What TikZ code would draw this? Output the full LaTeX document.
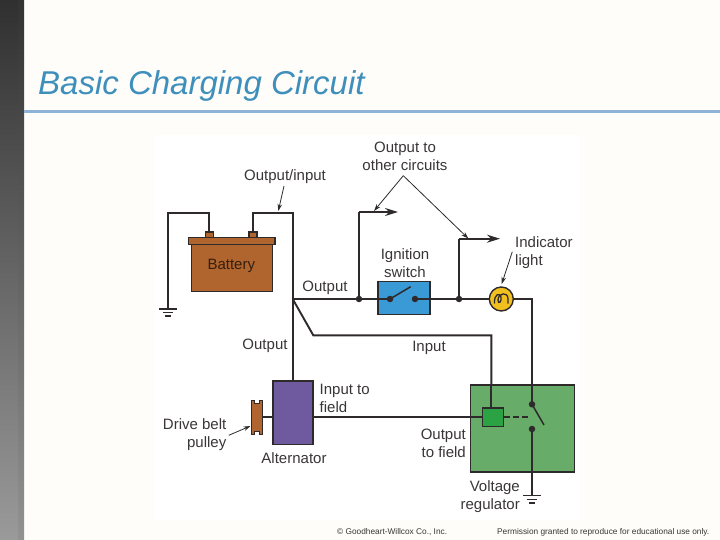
\documentclass[tikz,border=0pt]{standalone}
\usepackage{fontspec}
\setmainfont{Liberation Sans}
\usetikzlibrary{arrows.meta}
\definecolor{wirec}{HTML}{2E2A2B}
\definecolor{textc}{HTML}{3A3637}
\definecolor{titlec}{HTML}{3F8FBC}
\definecolor{rulec}{HTML}{8FB3D6}
\definecolor{paper}{HTML}{FEFDF9}
\definecolor{batc}{HTML}{B0652F}
\definecolor{swc}{HTML}{3A9AD6}
\definecolor{lampc}{HTML}{F2C01E}
\definecolor{altc}{HTML}{6F5AA0}
\definecolor{regc}{HTML}{67AC68}
\definecolor{relc}{HTML}{2BA243}
\definecolor{bartop}{HTML}{303030}
\definecolor{barbot}{HTML}{9A9A9A}
\definecolor{striptop}{HTML}{333333}
\definecolor{stripbot}{HTML}{929292}
\tikzset{
  wire/.style={draw=wirec,line width=1.9pt},
  outlined/.style={draw=wirec,line width=1.5pt},
  callout/.style={draw=wirec,line width=0.8pt,-{Stealth[length=7pt,width=4.5pt]}},
  outarrow/.style={wire,-{Stealth[length=13pt,width=8pt]}},
  lbl/.style={inner sep=0pt,text=textc,font=\fontsize{15}{18}\selectfont,align=center},
  lbll/.style={lbl,align=left},
  lblr/.style={lbl,align=right},
  foot/.style={inner sep=0pt,text=textc,font=\fontsize{8.3}{10}\selectfont},
  dotn/.style={circle,fill=wirec,inner sep=0pt,minimum size=6.5pt},
  gnd/.style={draw=wirec,line width=1.5pt}
}
\begin{document}
\begin{tikzpicture}[x=1pt,y=-1pt]
\useasboundingbox (0,0) rectangle (720,540);
\fill[paper] (0,0) rectangle (720,540);
\fill[white] (155,135) rectangle (580,520);
\shade[top color=bartop,bottom color=barbot] (0,0) rectangle (18,540);
\shade[top color=striptop,bottom color=stripbot] (18,0) rectangle (24,540);
\node[inner sep=0pt,anchor=base west,text=titlec,font=\fontsize{33}{36}\selectfont\itshape] (title) at (38,94.5) {Basic Charging Circuit};
\fill[rulec] (24,110.3) rectangle (720,113.3);

% coordinates
\coordinate (j1) at (292.7,299);
\coordinate (j2) at (359,299);
\coordinate (j3) at (459,299);
\coordinate (c1) at (390,299);
\coordinate (c2) at (415,299);

% wires under shapes
\draw[wire] (209,232) |- (167.7,213) -- (167.7,309);
\draw[wire] (252.7,232) |- (292.7,213) -- (292.7,381);
\draw[wire] (j1) -- (313.3,335.3) -| (491.3,408);

% battery
\node[outlined,fill=batc,minimum width=8pt,minimum height=5.7pt,inner sep=0pt] (t1) at (209.3,234.8) {};
\node[outlined,fill=batc,minimum width=8pt,minimum height=5.7pt,inner sep=0pt] (t2) at (253.2,234.8) {};
\node[outlined,fill=batc,minimum width=81pt,minimum height=47.4pt,inner sep=0pt] (bat) at (231.8,268) {};
\node[inner sep=0pt,text=black!70!batc,font=\fontsize{15}{18}\selectfont] (batl) at (231.3,266) {Battery};
\node[outlined,fill=batc,minimum width=86.7pt,minimum height=6.6pt,inner sep=0pt] (lid) at (231.7,241) {};

% ground 1
\draw[gnd] (159,309) -- (176.7,309) (162.7,312.5) -- (173.3,312.5) (165.3,316) -- (170.7,316);

% output arrows
\draw[wire] (j2) -- (359,212);
\draw[outarrow] (359,212) -- (398,212);
\draw[wire] (j3) -- (459,238.7);
\draw[outarrow] (459,238.7) -- (500,238.7);

% switch
\node[outlined,fill=swc,minimum width=52pt,minimum height=33pt,inner sep=0pt] (sw) at (404,297.8) {};
\draw[wire] (j1) -- (c1);
\draw[wire] (c2) -- (489,299);
\node[dotn] (d1) at (j2) {};
\node[dotn] (d2) at (j3) {};
\node[dotn] (d3) at (c1) {};
\node[dotn] (d4) at (c2) {};
\draw[wire,line width=1.5pt] (c1) -- (410.7,286.7);

% lamp
\draw[wire] (513,299) -| (532,404);
\node[circle,draw=wirec,line width=1.4pt,fill=lampc,minimum size=24pt,inner sep=0pt] (lamp) at (501.3,299) {};
\draw[wirec,line width=1.3pt] (494.5,303.5) .. controls (494,293) and (500,293) .. (501,297) .. controls (502,302) and (498,305) .. (498,300) .. controls (498,293) and (508,291) .. (508,299) -- (508,303.5);

% alternator
\node[outlined,fill=altc,minimum width=40pt,minimum height=63.7pt,inner sep=0pt] (alt) at (293,412.8) {};
% pulley
\draw[outlined,fill=batc] (251.5,400.5) -- (254.5,400.5) -- (254.5,403.5) -- (259.5,403.5) -- (259.5,400.5) -- (262.5,400.5) -- (262.5,434.5) -- (259.5,434.5) -- (259.5,431.5) -- (254.5,431.5) -- (254.5,434.5) -- (251.5,434.5) -- cycle;
\coordinate (pul) at (262.7,417.3);
\draw[wire] (pul) -- (273,417.3);

% regulator
\node[outlined,fill=regc,minimum width=103.6pt,minimum height=87pt,inner sep=0pt] (reg) at (522.5,428.5) {};
\draw[wire] (491.3,385) -- (491.3,408.3);
\draw[wire] (532,385) -- (532,404.3);
\draw[wire] (313,417.3) -- (482.3,417.3);
\node[outlined,fill=relc,minimum width=21pt,minimum height=18.4pt,inner sep=0pt] (rel) at (492.8,417.3) {};
\coordinate (dashend) at (530,417.3);
\draw[draw=wirec,line width=1.9pt,dash pattern=on 6pt off 3pt] (rel.east) -- (dashend);
\node[dotn] (u1) at (532,404.3) {};
\node[dotn] (u2) at (532,429) {};
\draw[wire,line width=1.5pt] (u1.center) -- (544,425);
\draw[wire] (u2.center) -- (532,495.7);
\draw[gnd] (523.3,495.7) -- (540.7,495.7) (526.7,499.3) -- (537.3,499.3) (529.3,502.9) -- (534.7,502.9);

% labels
\node[lbl] (l1) at (285,177) {Output/input};
\node[lbl] (l2) at (405,156.5) {Output to\\other circuits};
\node[lbl] (l3) at (405,263) {Ignition\\switch};
\node[lbll,anchor=west] (l4) at (515,252.5) {Indicator\\light};
\node[lbl] (l5) at (325,287.5) {Output};
\node[lbl] (l6) at (265,346) {Output};
\node[lbl] (l7) at (429,347.5) {Input};
\node[lbll,anchor=west] (l8) at (319.5,398.5) {Input to\\field};
\node[lblr,anchor=east] (l9) at (226.5,435) {Drive belt\\pulley};
\node[lbl] (l10) at (294,458) {Alternator};
\node[lblr,anchor=east] (l11) at (466,443.5) {Output\\to field};
\node[lblr,anchor=east] (l12) at (520,497) {Voltage\\regulator};

% callouts
\coordinate (a1) at (284,186);
\coordinate (a2) at (278.3,211);
\coordinate (a3) at (403.3,175.7);
\coordinate (a4) at (374,211);
\coordinate (a5) at (468.3,238.5);
\coordinate (a6) at (512.3,251.7);
\coordinate (a7) at (501.7,284);
\coordinate (a8) at (228.7,435.3);
\coordinate (a9) at (250.5,426);
\draw[callout] (a1) -- (a2);
\draw[callout] (a3) -- (a4);
\draw[callout] (a3) -- (a5);
\draw[callout] (a6) -- (a7);
\draw[callout] (a8) -- (a9);

% footer
\node[foot,anchor=base west] (f1) at (337,534) {© Goodheart-Willcox Co., Inc.};
\node[foot,anchor=base west] (f2) at (497,534) {Permission granted to reproduce for educational use only.};
\end{tikzpicture}
\end{document}
